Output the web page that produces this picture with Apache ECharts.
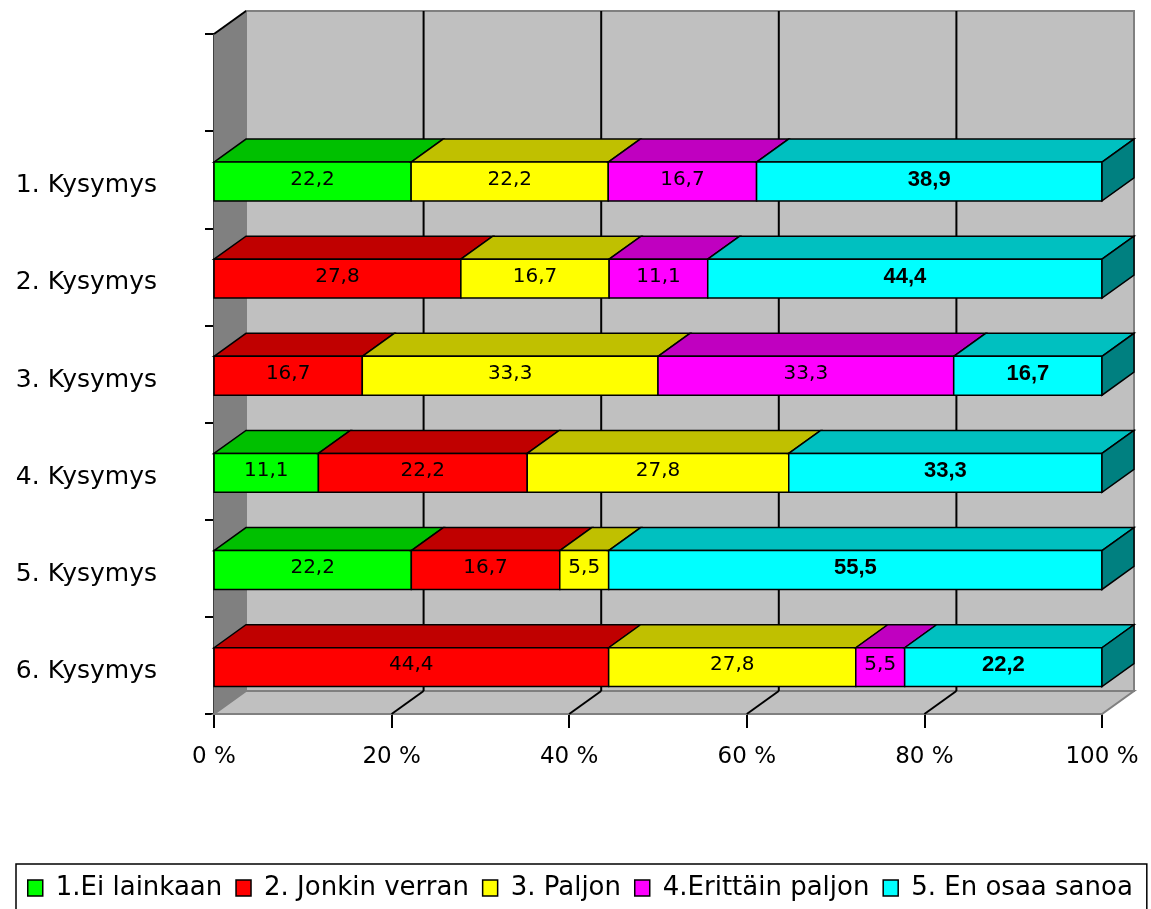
<!DOCTYPE html>
<html>
<head>
<meta charset="utf-8">
<title>Kysymykset</title>
<script src="https://cdn.jsdelivr.net/npm/echarts@6/dist/echarts.min.js"></script>
<style>
  html, body { margin: 0; padding: 0; background: #fff; }
  #chart { width: 1151px; height: 909px; }
</style>
</head>
<body>
<div id="chart"></div>
<script>
// Questions (top band of the axis is left empty)
const categories = ['1. Kysymys', '2. Kysymys', '3. Kysymys', '4. Kysymys', '5. Kysymys', '6. Kysymys'];
const seriesNames = ['1.Ei lainkaan', '2. Jonkin verran', '3. Paljon', '4.Erittäin paljon', '5. En osaa sanoa'];

// Answer shares per question
const eiLainkaan     = [22.2, 0,    0,    11.1, 22.2, 0];
const jonkinVerran   = [0,    27.8, 16.7, 22.2, 16.7, 44.4];
const paljon         = [22.2, 16.7, 33.3, 27.8, 5.5,  27.8];
const erittainPaljon = [16.7, 11.1, 33.3, 0,    0,    5.5];
const enOsaaSanoa    = [38.9, 44.4, 16.7, 33.3, 55.5, 22.2];

const xTicks = [0, 20, 40, 60, 80, 100];

const seriesValues = [eiLainkaan, jonkinVerran, paljon, erittainPaljon, enOsaaSanoa];
const frontColors = ['#00FF00', '#FF0000', '#FFFF00', '#FF00FF', '#00FFFF'];
const topColors   = ['#00C000', '#C00000', '#C0C000', '#C000C0', '#00C0C0'];
const sideColors  = ['#008000', '#800000', '#808000', '#800080', '#008080'];

// depth of the 3D box (pixels)
const DX = 32, DY = 23;

const axisCats = [''].concat(categories);

// 100 % stacking: each row normalised to its own total
const stackedData = seriesValues.map(() => []);
categories.forEach((c, i) => {
  const total = seriesValues.reduce((s, arr) => s + arr[i], 0);
  let acc = 0;
  let lastIdx = -1;
  seriesValues.forEach((arr, s) => { if (arr[i] > 0) lastIdx = s; });
  seriesValues.forEach((arr, s) => {
    const v = arr[i];
    if (v > 0) {
      const start = acc / total * 100;
      acc += v;
      const end = acc / total * 100;
      stackedData[s].push([start, end, i + 1, v, s === lastIdx ? 1 : 0]);
    }
  });
});

function fmt(v) { return v.toFixed(1).replace('.', ','); }

function barRenderer(s) {
  return function (params, api) {
    const start = api.value(0), end = api.value(1), cat = api.value(2);
    const raw = api.value(3), isLast = api.value(4);
    const p0 = api.coord([start, cat]);
    const p1 = api.coord([end, cat]);
    const band = api.size([0, 1])[1];
    const h = band * 0.4;
    const yc = p0[1] + band * 0.018;
    const top = yc - h / 2, bot = yc + h / 2;
    const x0 = p0[0], x1 = p1[0];
    const children = [
      { type: 'polygon', shape: { points: [[x0, top], [x0 + DX, top - DY], [x1 + DX, top - DY], [x1, top]] },
        style: { fill: topColors[s], stroke: '#000', lineWidth: 1.5 } },
      { type: 'rect', shape: { x: x0, y: top, width: x1 - x0, height: h },
        style: { fill: frontColors[s], stroke: '#000', lineWidth: 1.5 } }
    ];
    if (isLast) {
      children.push({ type: 'polygon', shape: { points: [[x1, top], [x1 + DX, top - DY], [x1 + DX, bot - DY], [x1, bot]] },
        style: { fill: sideColors[s], stroke: '#000', lineWidth: 1.5 } });
    }
    const bold = s === 4;
    children.push({
      type: 'text',
      style: {
        x: (x0 + x1) / 2, y: yc - 2,
        text: fmt(raw),
        align: 'center', verticalAlign: 'middle',
        fill: '#000',
        font: bold ? 'bold 22px "Liberation Sans", Arial, sans-serif' : '20px "DejaVu Sans", sans-serif'
      }
    });
    return { type: 'group', children: children };
  };
}

function wallRenderer(params, api) {
  const cs = params.coordSys;
  const L = cs.x, T = cs.y, R = cs.x + cs.width, B = cs.y + cs.height;
  const children = [
    // back wall
    { type: 'rect', shape: { x: L + DX, y: T - DY, width: cs.width, height: cs.height },
      style: { fill: '#C0C0C0', stroke: '#808080', lineWidth: 2 } },
    // left side wall
    { type: 'polygon', shape: { points: [[L, T], [L + DX, T - DY], [L + DX, B - DY], [L, B]] },
      style: { fill: '#808080', stroke: '#808080', lineWidth: 1 } },
    // floor
    { type: 'polygon', shape: { points: [[L, B], [L + DX, B - DY], [R + DX, B - DY], [R, B]] },
      style: { fill: '#C0C0C0', stroke: '#808080', lineWidth: 2 } },
    // top edge of side wall
    { type: 'line', shape: { x1: L, y1: T, x2: L + DX, y2: T - DY },
      style: { stroke: '#000', lineWidth: 2 } }
  ];
  xTicks.forEach(v => {
    if (v === xTicks[0] || v === xTicks[xTicks.length - 1]) return;
    const x = api.coord([v, 0])[0];
    children.push({ type: 'line', shape: { x1: x + DX, y1: T - DY, x2: x + DX, y2: B - DY },
      style: { stroke: '#000', lineWidth: 2 } });
    children.push({ type: 'line', shape: { x1: x, y1: B, x2: x + DX, y2: B - DY },
      style: { stroke: '#000', lineWidth: 2 } });
  });
  return { type: 'group', children: children };
}

const series = [{
  type: 'custom',
  name: 'walls',
  z: 1,
  silent: true,
  renderItem: wallRenderer,
  data: [[0, 0]],
  encode: { x: 0, y: 1 }
}];
seriesNames.forEach((name, s) => {
  series.push({
    type: 'custom',
    name: name,
    z: 2,
    itemStyle: { color: frontColors[s] },
    renderItem: barRenderer(s),
    data: stackedData[s],
    encode: { x: [0, 1], y: 2 }
  });
});

const chart = echarts.init(document.getElementById('chart'), null, { renderer: 'canvas' });
chart.setOption({
  animation: false,
  backgroundColor: '#FFFFFF',
  grid: { left: 214, right: 49, top: 34, bottom: 195, containLabel: false },
  xAxis: {
    type: 'value',
    min: xTicks[0], max: xTicks[xTicks.length - 1], interval: 20,
    axisLine: { show: true, lineStyle: { color: '#000', width: 2 } },
    axisTick: { show: true, length: 14, lineStyle: { color: '#000', width: 2 } },
    splitLine: { show: false },
    axisLabel: {
      formatter: '{value} %', margin: 32,
      color: '#000', fontSize: 23, fontFamily: '"DejaVu Sans", sans-serif'
    }
  },
  yAxis: {
    type: 'category',
    inverse: true,
    data: axisCats,
    boundaryGap: true,
    axisLine: { show: true, lineStyle: { color: '#000', width: 2 } },
    axisTick: { show: true, length: 9, lineStyle: { color: '#000', width: 2 } },
    splitLine: { show: false },
    axisLabel: {
      margin: 57, verticalAlign: 'top', lineHeight: 12,
      color: '#000', fontSize: 25, fontFamily: '"DejaVu Sans", sans-serif'
    }
  },
  legend: {
    data: seriesNames,
    left: 16, top: 864,
    orient: 'horizontal',
    icon: 'rect',
    itemWidth: 15, itemHeight: 16, itemGap: 13,
    itemStyle: { borderColor: '#000', borderWidth: 1.5 },
    borderColor: '#000', borderWidth: 1.5,
    padding: [11, 14, 30, 11],
    selectedMode: false,
    textStyle: {
      color: '#000', fontSize: 26, fontFamily: '"DejaVu Sans", sans-serif',
      padding: [0, 0, 0, 8]
    }
  },
  series: series
});
</script>
</body>
</html>
